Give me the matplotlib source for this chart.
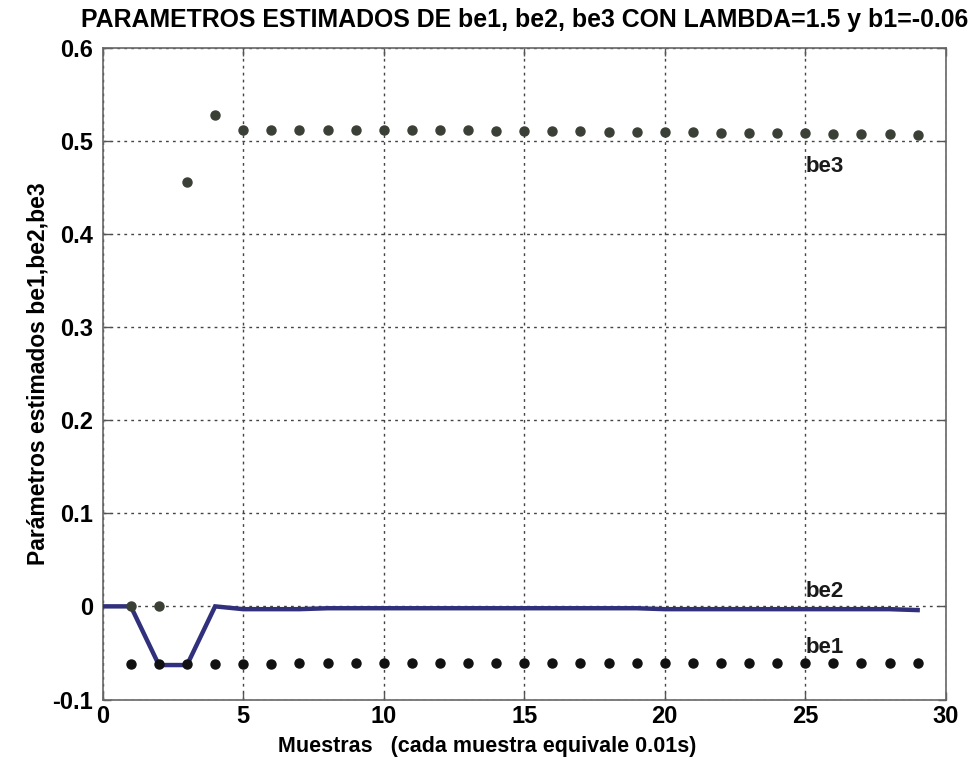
import matplotlib
matplotlib.use("Agg")
import matplotlib.pyplot as plt

title = "PARAMETROS ESTIMADOS DE be1, be2, be3 CON LAMBDA=1.5 y b1=-0.06"
xlabel = "Muestras   (cada muestra equivale 0.01s)"
ylabel = "Parámetros estimados be1,be2,be3"

# be1 markers (samples 1..29)
be1_x = list(range(1, 30))
be1_y = [-0.062, -0.062, -0.062, -0.062, -0.062, -0.062, -0.061, -0.061, -0.061, -0.061,
         -0.061, -0.061, -0.061, -0.061, -0.061, -0.061, -0.061, -0.061, -0.061, -0.061,
         -0.061, -0.061, -0.061, -0.061, -0.061, -0.061, -0.061, -0.061, -0.061]

# be2 line (samples 0..29)
be2_x = list(range(0, 30))
be2_y = [0.0, 0.0, -0.063, -0.063, 0.0, -0.003, -0.003, -0.003, -0.002, -0.002,
         -0.002, -0.002, -0.002, -0.002, -0.002, -0.002, -0.002, -0.002, -0.002, -0.002,
         -0.003, -0.003, -0.003, -0.003, -0.003, -0.003, -0.003, -0.003, -0.003, -0.004]

# be3 markers (samples 1..29)
be3_x = list(range(1, 30))
be3_y = [0.0, 0.0, 0.456, 0.528, 0.511, 0.512, 0.511, 0.512, 0.512, 0.511,
         0.511, 0.511, 0.511, 0.510, 0.510, 0.510, 0.510, 0.509, 0.509, 0.509,
         0.509, 0.508, 0.508, 0.508, 0.508, 0.507, 0.507, 0.507, 0.506]

xticks = [0, 5, 10, 15, 20, 25, 30]
yticks = [-0.1, 0, 0.1, 0.2, 0.3, 0.4, 0.5, 0.6]
yticklabels = ["-0.1", "0", "0.1", "0.2", "0.3", "0.4", "0.5", "0.6"]

labels = ["be3", "be2", "be1"]
label_pos = [(25, 0.472), (25, 0.016), (25, -0.044)]

plt.rcParams['font.family'] = ['Liberation Sans', 'DejaVu Sans']
plt.rcParams['font.weight'] = 'bold'

fig = plt.figure(figsize=(9.69, 7.67), dpi=100)
ax = fig.add_axes([0.106, 0.088, 0.870, 0.850])

ax.plot(be2_x, be2_y, color="#30307c", lw=3.2, zorder=3, solid_joinstyle='miter')
ax.plot(be1_x, be1_y, linestyle='none', marker='o', ms=6.5, color="#111111", zorder=4)
ax.plot(be3_x, be3_y, linestyle='none', marker='o', ms=6.5, color="#3b4036", zorder=4)

for t, (lx, ly) in zip(labels, label_pos):
    ax.text(lx, ly, t, fontsize=16, fontweight='bold', color="#1a1a1a",
            ha='left', va='center', zorder=5)

ax.set_xlim(0, 30)
ax.set_ylim(-0.1, 0.6)
ax.set_xticks(xticks)
ax.set_yticks(yticks)
ax.set_yticklabels(yticklabels)
ax.tick_params(direction='in', top=True, right=True, length=6, width=1,
               color="#555555", labelsize=17)
ax.tick_params(axis='y', pad=7)
ax.tick_params(axis='x', pad=4)
for lab in ax.get_xticklabels() + ax.get_yticklabels():
    lab.set_fontweight('bold')
ax.grid(True, linestyle=(0, (2, 3)), color="#444444", linewidth=1.0)
for s in ax.spines.values():
    s.set_color("#666666")
    s.set_linewidth(1.2)

ax.set_title(title, fontsize=17.9, fontweight='bold', pad=15)
ax.set_xlabel(xlabel, fontsize=15.5, fontweight='bold', labelpad=6)
ax.xaxis.label.set_x(0.4555)
ax.set_ylabel(ylabel, fontsize=16.5, fontweight='bold', labelpad=2)

fig.savefig("out.png", dpi=100, facecolor='white')
